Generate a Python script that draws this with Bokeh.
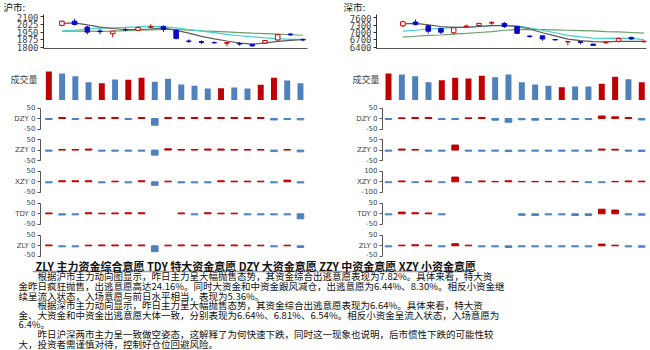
from bokeh.plotting import figure
from bokeh.layouts import column, row
from bokeh.models import Range1d, FixedTicker, Label, ColumnDataSource
from bokeh.embed import file_html
from bokeh.resources import INLINE

# ---------------- data ----------------
days = list(range(20))

sh_open  = [2015, 2055, 1998, 1960, 1935, 1975, 1968, 1995, 2005, 1968, 1865, 1860, 1850, 1843, 1842, 1832, 1845, 1875, 1932, 1880]
sh_close = [2055, 2023, 1950, 1955, 1960, 1972, 1995, 2000, 1975, 1890, 1862, 1852, 1848, 1850, 1835, 1818, 1870, 1925, 1925, 1875]
sh_high  = [2060, 2078, 2010, 1980, 1962, 1992, 2005, 2025, 2015, 1975, 1880, 1870, 1860, 1852, 1855, 1838, 1873, 1932, 1940, 1888]
sh_low   = [2005, 2014, 1928, 1930, 1902, 1957, 1958, 1985, 1950, 1880, 1845, 1835, 1840, 1815, 1820, 1812, 1838, 1868, 1912, 1863]
sh_ma5   = [2033, 2039, 2020, 1998, 1985, 1975, 1975, 1980, 1990, 1966, 1940, 1910, 1886, 1865, 1845, 1835, 1845, 1862, 1870, 1877]
sh_ma10  = [1960, 1968, 1980, 1988, 1992, 1995, 2000, 2008, 2000, 1990, 1975, 1960, 1945, 1928, 1915, 1905, 1895, 1888, 1880, 1880]
sh_ma20  = [1960, 1960, 1960, 1958, 1960, 1965, 1968, 1972, 1975, 1975, 1970, 1963, 1958, 1952, 1946, 1940, 1935, 1930, 1925, 1920]
sh_ticks = [1800, 1875, 1950, 2025, 2100]

sz_open  = [7278, 7432, 7277, 7174, 6994, 7240, 7290, 7390, 7380, 7250, 6860, 6870, 6720, 6620, 6630, 6530, 6590, 6640, 6800, 6630]
sz_close = [7445, 7329, 7058, 7020, 7200, 7270, 7380, 7410, 7250, 6970, 6840, 6740, 6700, 6640, 6600, 6480, 6610, 6760, 6740, 6650]
sz_high  = [7484, 7535, 7329, 7200, 7213, 7330, 7400, 7470, 7430, 7280, 6890, 6890, 6730, 6650, 6660, 6540, 6620, 6800, 6840, 6660]
sz_low   = [7226, 7303, 6968, 6942, 6929, 7230, 7250, 7320, 7190, 6940, 6790, 6670, 6690, 6480, 6520, 6460, 6530, 6600, 6710, 6580]
sz_ma5   = [7355, 7380, 7316, 7252, 7213, 7213, 7252, 7290, 7290, 7252, 7148, 6994, 6865, 6736, 6671, 6633, 6620, 6645, 6645, 6645]
sz_ma10  = [7058, 7097, 7148, 7174, 7213, 7226, 7252, 7290, 7303, 7277, 7200, 7097, 6994, 6890, 6826, 6774, 6761, 6774, 6761, 6710]
sz_ma20  = [6813, 6852, 6890, 6903, 6942, 6968, 7006, 7045, 7097, 7123, 7135, 7123, 7110, 7097, 7084, 7071, 7045, 7032, 7006, 6981]
sz_ticks = [6400, 6700, 7000, 7300, 7600]

sh_vol = [87, 81, 73, 55, 52, 63, 62, 68, 56, 65, 48, 44, 36, 37, 39, 36, 47, 68, 60, 52]
sz_vol = [81, 78, 73, 55, 61, 68, 66, 74, 70, 78, 55, 48, 44, 40, 42, 42, 50, 71, 64, 55]

panel_names = ["DZY", "ZZY", "XZY", "TDY", "ZLY"]
sh_dzy = [-5, 5, -5, 3, 5, 5, -5, 5, -32, 5, 5, 5, 5, 5, 5, 5, 5, -7, -5, -6.44]
sh_zzy = [-5, 3, 3, 5, -5, -5, -5, -5, -24, 6, 3, 3, 5, 5, 3, 3, 3, -7, 3, -8.30]
sh_xzy = [-5, 5, 5, 5, -5, 3, -5, 5, -17, 3, -5, -5, -5, 5, 3, 3, 3, -5, 8, -5.36]
sh_tdy = [4, -6, -5, 5, 3, 4, 5, 5, None, None, 4, -5, 5, 3, 3, -5, -5, -5, -5, -24.16]
sh_zly = [4, -5, -5, 3, 4, 4, 4, 4, -28, 3, 4, 3, 4, 4, 4, 3, 3, -5, 3, -7.82]

sz_dzy = [-5, 3, 5, 5, -5, -5, 3, 5, -8, -18, -6, -8, -5, -5, -5, -5, 12, 8, 5, -6.81]
sz_zzy = [-5, 5, 3, -5, -5, 24, -5, -5, -5, -7, -5, -5, -5, -5, -5, -5, 5, 4, -5, -6.54]
sz_xzy = [-8, 8, -8, 8, -8, 45, -8, 8, 4, 10, 4, 4, 4, 4, 4, -8, -8, 4, 8, 6.4]
sz_tdy = [-5, 8, 5, 4, -5, None, None, None, None, None, -7, -8, -5, -5, -8, -8, 22, 18, -5, -6.64]
sz_zly = [-5, 3, 5, 3, -5, 10, 3, -5, -5, -8, -5, -5, -5, -5, -5, -5, 8, 3, -5, -6.64]

sh_limits = [50, 50, 50, 50, 50]
sz_limits = [50, 50, 100, 50, 50]

titles = ["沪市:", "深市:"]
legend_text = "ZLY 主力资金综合意愿  TDY 特大资金意愿  DZY 大资金意愿  ZZY 中资金意愿  XZY 小资金意愿"
paragraph = [
    "　　根据沪市主力动向图显示，昨日主力呈大幅抛售态势，其资金综合出逃意愿表现为7.82%。具体来看，特大资",
    "金昨日疯狂抛售，出逃意愿高达24.16%。同时大资金和中资金跟风减仓，出逃意愿为6.44%、8.30%。相反小资金继",
    "续呈流入状态，入场意愿与前日水平相当，表现为5.36%。",
    "　　根据深市主力动向显示，昨日主力呈大幅抛售态势，其资金综合出逃意愿表现为6.64%。具体来看，特大资",
    "金、大资金和中资金出逃意愿大体一致，分别表现为6.64%、6.81%、6.54%。相反小资金呈流入状态，入场意愿为",
    "6.4%。",
    "　　昨日沪深两市主力呈一致做空姿态，这解释了为何快速下跌，同时这一现象也说明，后市惯性下跌的可能性较",
    "大，投资者需谨慎对待，控制好仓位回避风险。",
]

# ---------------- styles ----------------
RED_C = "#D00000"
BLUE_C = "#0A0AC8"
RED_B = "#C00000"
BLUE_B = "#4F81BD"
CJK = "Noto Sans CJK SC"


def base_fig(w, h, xr, yr, mbl, mbr, mbt, mbb, **kw):
    p = figure(width=w, height=h, x_range=Range1d(*xr), y_range=Range1d(*yr),
               toolbar_location=None, output_backend="svg",
               min_border_left=mbl, min_border_right=mbr,
               min_border_top=mbt, min_border_bottom=mbb, **kw)
    p.outline_line_color = None
    p.grid.visible = False
    p.background_fill_color = "white"
    p.border_fill_color = "white"
    return p


def candle_fig(o, c, h, l, m1, m2, m3, ticks, xr, yr, mbl, mbr, mbb):
    p = base_fig(325, 44, xr, yr, mbl, mbr, 1, mbb)
    up = [ci >= oi for oi, ci in zip(o, c)]
    src = ColumnDataSource(dict(
        x=days, top=[max(a, b) for a, b in zip(o, c)], bot=[min(a, b) for a, b in zip(o, c)],
        hi=h, lo=l,
        lc=[RED_C if u else BLUE_C for u in up],
        fc=["white" if u else BLUE_C for u in up]))
    p.line(days, m3, line_color="#6A9F6A", line_width=1.2)
    p.line(days, m2, line_color="#40CFCF", line_width=1.2)
    p.line(days, m1, line_color="#5A5A5A", line_width=1.2)
    p.segment(x0="x", y0="lo", x1="x", y1="hi", line_color="lc", line_width=1, source=src)
    p.vbar(x="x", top="top", bottom="bot", width=0.36, fill_color="fc", line_color="lc", line_width=1, source=src)
    ax = p.yaxis[0]
    ax.ticker = FixedTicker(ticks=ticks)
    ax.major_label_text_font = "DejaVu Sans Mono"
    ax.major_label_text_font_size = "9px"
    ax.major_label_standoff = 2
    ax.major_tick_out = 3
    ax.major_tick_in = 0
    ax.minor_tick_line_color = None
    ax.axis_line_color = "#333333"
    ax.major_tick_line_color = "#333333"
    xa = p.xaxis[0]
    xa.ticker = FixedTicker(ticks=[])
    xa.minor_tick_line_color = None
    xa.major_label_text_font_size = "0px"
    xa.axis_line_color = "#555555"
    return p


def volume_fig(vals, o, c, xr, mbl, mbr):
    p = base_fig(325, 43, xr, (0, 129), mbl, mbr, 0, 0, x_axis_type=None)
    cols = [RED_B if ci >= oi else BLUE_B for oi, ci in zip(o, c)]
    p.vbar(x=days, top=vals, width=0.45, fill_color=cols, line_color=None)
    ax = p.yaxis[0]
    ax.ticker = FixedTicker(ticks=[])
    ax.axis_line_color = None
    ax.major_tick_line_color = None
    ax.minor_tick_line_color = None
    ax.axis_label = "成交量"
    ax.axis_label_orientation = "horizontal"
    ax.axis_label_text_font = CJK
    ax.axis_label_text_font_size = "9px"
    ax.axis_label_text_font_style = "normal"
    ax.axis_label_standoff = 3
    return p


def panel_fig(name, vals, lim, px_top, px_bot, upp, height, xr, mbl, mbr):
    yr = (-px_bot * upp, px_top * upp)
    p = base_fig(325, height, xr, yr, mbl, mbr, 0, 0, x_axis_type=None)
    xs = [d for d, v in zip(days, vals) if v is not None]
    vs = [v for v in vals if v is not None]
    cols = [RED_B if v >= 0 else BLUE_B for v in vs]
    p.vbar(x=xs, top=vs, bottom=0, width=0.5, fill_color=cols, line_color=cols, line_width=1)
    ax = p.yaxis[0]
    ax.ticker = FixedTicker(ticks=[-lim, 0, lim])
    ax.bounds = (-lim, lim)
    ax.major_label_overrides = {-lim: str(-lim), 0: name + " 0", lim: str(lim)}
    ax.major_label_text_font = "DejaVu Sans"
    ax.major_label_text_font_size = "7px"
    ax.major_label_standoff = 2
    ax.major_tick_out = 3
    ax.major_tick_in = 0
    ax.minor_tick_line_color = None
    ax.axis_line_color = "#555555"
    ax.major_tick_line_color = "#555555"
    return p


# x ranges (index units)
sh_cxr = (-1.45, 19.35)
sz_cxr = (-2.08, 19.2)
sh_bxr = (-0.63, 19.38)
sz_bxr = (-0.45, 19.28)

# title strip
ts = base_fig(650, 13, (0, 650), (13, 0), 0, 0, 0, 0, x_axis_type=None, y_axis_type=None)
for tx, tt in zip([3, 343], titles):
    ts.add_layout(Label(x=tx, y=6.5, text=tt, text_font=CJK, text_font_size="9.5px",
                        text_baseline="middle", text_color="#111111"))

c_sh = candle_fig(sh_open, sh_close, sh_high, sh_low, sh_ma5, sh_ma10, sh_ma20,
                  sh_ticks, sh_cxr, (1793, 2119), 43, 18, 9)
c_sz = candle_fig(sz_open, sz_close, sz_high, sz_low, sz_ma5, sz_ma10, sz_ma20,
                  sz_ticks, sz_cxr, (6350, 7743), 51, 4, 7)

v_sh = volume_fig(sh_vol, sh_open, sh_close, sh_bxr, 40, 20)
v_sz = volume_fig(sz_vol, sz_open, sz_close, sz_bxr, 57, 5)

sh_panels = [sh_dzy, sh_zzy, sh_xzy, sh_tdy, sh_zly]
sz_panels = [sz_dzy, sz_zzy, sz_xzy, sz_tdy, sz_zly]
heights = [34, 32, 32, 32, 28]
px_tops = [18, 15.6, 15.3, 15.3, 15.3]
rows = []
for k in range(5):
    ht = heights[k]
    pt = px_tops[k]
    pb = ht - pt
    l = panel_fig(panel_names[k], sh_panels[k], sh_limits[k], pt, pb, sh_limits[k] / 10.5, ht, sh_bxr, 40, 20)
    r = panel_fig(panel_names[k], sz_panels[k], sz_limits[k], pt, pb, sz_limits[k] / 10.5, ht, sz_bxr, 57, 5)
    rows.append(row(l, r))

t = base_fig(650, 92, (0, 650), (92, 0), 0, 0, 0, 0, x_axis_type=None, y_axis_type=None)
t.add_layout(Label(x=35, y=7, text=legend_text, text_font=CJK, text_font_size="11px",
                   text_font_style="bold", text_baseline="middle", text_color="#111111"))
t.segment(x0=[32], y0=[13], x1=[470], y1=[13], line_color="#9A9A9A", line_width=1.5)
for i, line in enumerate(paragraph):
    t.add_layout(Label(x=18, y=17.8 + 9.6 * i, text=line, text_font=CJK, text_font_size="9.5px",
                       text_baseline="middle", text_color="#111111"))

layout = column(ts, row(c_sh, c_sz), row(v_sh, v_sz), *rows, t)

open("out.html", "w").write(file_html(layout, INLINE))
